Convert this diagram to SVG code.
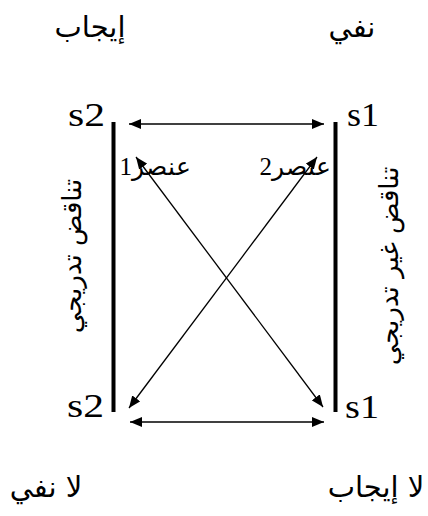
<svg xmlns="http://www.w3.org/2000/svg" width="428" height="516" viewBox="0 0 428 516">
<style>
.ar{font-family:"DejaVu Sans","Noto Sans",sans-serif;fill:#000}
.s{font-family:"Liberation Serif","DejaVu Serif",serif;fill:#000}
.ln{stroke:#000;stroke-width:1.3;fill:none}
.bar{fill:#000}
</style>
<defs>
<marker id="ah" viewBox="0 0 12 10" refX="12" refY="5" markerWidth="12" markerHeight="10" markerUnits="userSpaceOnUse" orient="auto-start-reverse">
<path d="M0,0 L12,5 L0,10 z" fill="#000"/>
</marker>
</defs>
<rect width="428" height="516" fill="#fff"/>
<g id="connectors">
<line class="ln" x1="129" y1="124" x2="324" y2="124" marker-start="url(#ah)" marker-end="url(#ah)"/>
<line class="ln" x1="130" y1="422" x2="324" y2="422" marker-start="url(#ah)" marker-end="url(#ah)"/>
<line class="ln" x1="136" y1="157" x2="323" y2="407" marker-start="url(#ah)" marker-end="url(#ah)"/>
<line class="ln" x1="317" y1="157" x2="129" y2="408" marker-start="url(#ah)" marker-end="url(#ah)"/>
</g>
<g id="bar-left"><rect class="bar" x="111.5" y="122" width="4" height="290"/></g>
<g id="bar-right"><rect class="bar" x="333.5" y="122" width="4" height="290"/></g>
<g id="label-ijab"><text class="ar" x="90" y="37" font-size="29" text-anchor="middle" direction="rtl">إيجاب</text></g>
<g id="label-nafy"><text class="ar" x="352" y="37" font-size="29" text-anchor="middle" direction="rtl">نفي</text></g>
<g id="label-la-nafy"><text class="ar" x="46" y="497" font-size="29" text-anchor="middle" direction="rtl">لا نفي</text></g>
<g id="label-la-ijab"><text class="ar" x="376" y="497" font-size="29" text-anchor="middle" direction="rtl">لا إيجاب</text></g>
<g id="s2-top"><text class="s" x="68" y="126" font-size="33" textLength="37" lengthAdjust="spacingAndGlyphs">s2</text></g>
<g id="s1-top"><text class="s" x="347" y="126" font-size="33" textLength="32" lengthAdjust="spacingAndGlyphs">s1</text></g>
<g id="s2-bottom"><text class="s" x="67" y="417" font-size="33" textLength="37" lengthAdjust="spacingAndGlyphs">s2</text></g>
<g id="s1-bottom"><text class="s" x="345" y="418" font-size="33" textLength="34" lengthAdjust="spacingAndGlyphs">s1</text></g>
<g id="element1"><text class="s" x="191" y="175" font-size="25" direction="rtl" text-anchor="start">عنصر1</text></g>
<g id="element2"><text class="s" x="331" y="175" font-size="25" direction="rtl" text-anchor="start">عنصر2</text></g>
<g id="gradual"><text class="ar" transform="translate(81,256) rotate(-90)" font-size="26" text-anchor="middle" direction="rtl">تناقض تدريجي</text></g>
<g id="non-gradual"><text class="ar" transform="translate(398,266) rotate(-90)" font-size="26" text-anchor="middle" direction="rtl">تناقض غير تدريجي</text></g>
</svg>
